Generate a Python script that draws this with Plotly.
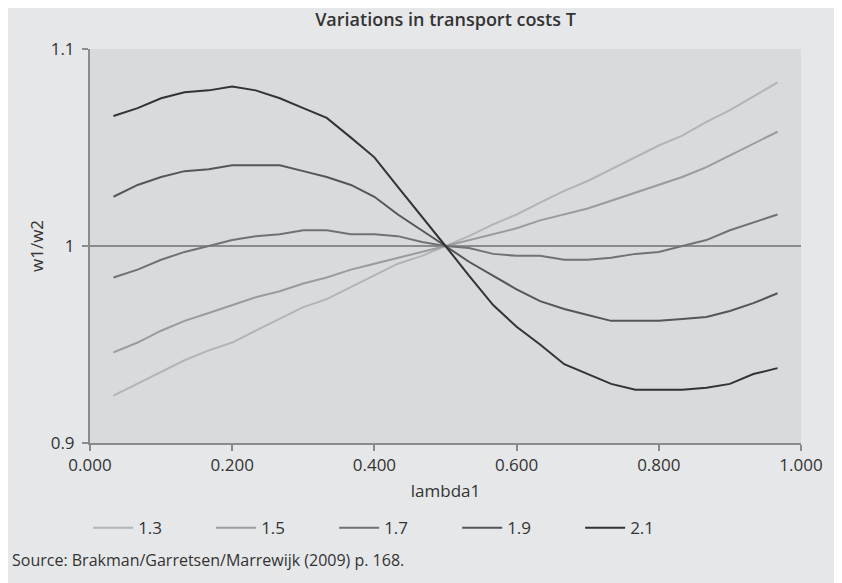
import plotly.graph_objects as go

lambda1 = [0.033, 0.067, 0.100, 0.133, 0.167, 0.200, 0.233, 0.267, 0.300, 0.333,
           0.367, 0.400, 0.433, 0.467, 0.500, 0.533, 0.567, 0.600, 0.633, 0.667,
           0.700, 0.733, 0.767, 0.800, 0.833, 0.867, 0.900, 0.933, 0.967]

t_13 = [0.924, 0.930, 0.936, 0.942, 0.947, 0.951, 0.957, 0.963, 0.969, 0.973,
        0.979, 0.985, 0.991, 0.995, 1.000, 1.005, 1.011, 1.016, 1.022, 1.028,
        1.033, 1.039, 1.045, 1.051, 1.056, 1.063, 1.069, 1.076, 1.083]
t_15 = [0.946, 0.951, 0.957, 0.962, 0.966, 0.970, 0.974, 0.977, 0.981, 0.984,
        0.988, 0.991, 0.994, 0.997, 1.000, 1.003, 1.006, 1.009, 1.013, 1.016,
        1.019, 1.023, 1.027, 1.031, 1.035, 1.040, 1.046, 1.052, 1.058]
t_17 = [0.984, 0.988, 0.993, 0.997, 1.000, 1.003, 1.005, 1.006, 1.008, 1.008,
        1.006, 1.006, 1.005, 1.002, 1.000, 0.999, 0.996, 0.995, 0.995, 0.993,
        0.993, 0.994, 0.996, 0.997, 1.000, 1.003, 1.008, 1.012, 1.016]
t_19 = [1.025, 1.031, 1.035, 1.038, 1.039, 1.041, 1.041, 1.041, 1.038, 1.035,
        1.031, 1.025, 1.016, 1.008, 1.000, 0.992, 0.985, 0.978, 0.972, 0.968,
        0.965, 0.962, 0.962, 0.962, 0.963, 0.964, 0.967, 0.971, 0.976]
t_21 = [1.066, 1.070, 1.075, 1.078, 1.079, 1.081, 1.079, 1.075, 1.070, 1.065,
        1.055, 1.045, 1.030, 1.015, 1.000, 0.985, 0.970, 0.959, 0.950, 0.940,
        0.935, 0.930, 0.927, 0.927, 0.927, 0.928, 0.930, 0.935, 0.938]

series_names = ["1.3", "1.5", "1.7", "1.9", "2.1"]
series_values = [t_13, t_15, t_17, t_19, t_21]
series_colors = ["#b3b4b6", "#9a9b9d", "#717274", "#555658", "#333335"]

x_ticks = [0.0, 0.2, 0.4, 0.6, 0.8, 1.0]
y_ticks = [0.9, 1.0, 1.1]
y_tick_labels = ["0.9", "1", "1.1"]

FONT = "Open Sans"
TXT = "#333333"
AX = "#8a8b8d"

fig = go.Figure()
for name, vals, col in zip(series_names, series_values, series_colors):
    fig.add_trace(go.Scatter(x=lambda1, y=vals, mode="lines", name=name,
                             line=dict(color=col, width=2)))

fig.add_shape(type="line", xref="paper", yref="y", x0=0, x1=1, y0=1, y1=1,
              line=dict(color=AX, width=2), layer="below")

fig.update_layout(
    width=842, height=583,
    margin=dict(l=82, r=49, t=41, b=148),
    paper_bgcolor="#e6e7e9",
    plot_bgcolor="#d9dadc",
    font=dict(family=FONT, size=17, color=TXT),
    title=dict(text="Variations in transport costs T", x=0.5, xref="paper",
               y=1 - 12 / 583, yanchor="middle",
               font=dict(family=FONT, size=18, color=TXT, weight=600)),
    showlegend=True,
    legend=dict(orientation="h", x=-0.0026, xanchor="left", y=-0.216, yanchor="middle",
                itemwidth=40, entrywidth=68, entrywidthmode="pixels",
                font=dict(family=FONT, size=17, color=TXT),
                bgcolor="rgba(0,0,0,0)", traceorder="normal"),
    xaxis=dict(range=[0, 1], tickvals=x_ticks, tickformat=".3f",
               showgrid=False, zeroline=False,
               showline=True, linecolor=AX, linewidth=2,
               ticks="outside", ticklen=6, tickwidth=2, tickcolor=AX,
               tickfont=dict(family=FONT, size=17, color=TXT),
               title=dict(text="lambda1", standoff=10,
                          font=dict(family=FONT, size=17, color=TXT))),
    yaxis=dict(range=[0.9, 1.1], tickvals=y_ticks, ticktext=y_tick_labels,
               showgrid=False, zeroline=False,
               showline=True, linecolor=AX, linewidth=2,
               ticks="outside", ticklen=6, tickwidth=2, tickcolor=AX,
               ticklabelstandoff=4,
               tickfont=dict(family=FONT, size=17, color=TXT)),
    annotations=[
        dict(text="w1/w2", textangle=-90, xref="paper", yref="paper",
             x=(28 - 82) / 711, y=0.5, xanchor="center", yanchor="middle",
             showarrow=False, font=dict(family=FONT, size=17, color=TXT)),
        dict(text="Source: Brakman/Garretsen/Marrewijk (2009) p. 168.",
             xref="paper", yref="paper", x=(10 - 90) / 711, y=(443 - 560) / 394,
             xanchor="left", yanchor="middle", showarrow=False,
             font=dict(family=FONT, size=16, color=TXT)),
    ],
)

fig.write_html("out.html")
